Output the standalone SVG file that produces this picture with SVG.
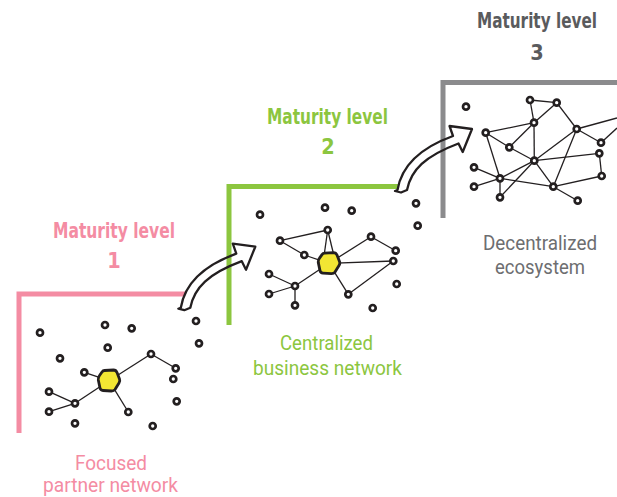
<svg xmlns="http://www.w3.org/2000/svg" width="617" height="497" viewBox="0 0 617 497">
  <style>
    .lvl { font-family: "DejaVu Sans Condensed", "DejaVu Sans", sans-serif; font-weight: bold; font-size: 21.5px; text-anchor: middle; }
    .cap { font-family: Roboto, "Liberation Sans", Arial, sans-serif; font-size: 20.5px; text-anchor: middle; }
    .pink { fill: #f48ca3; }
    .green { fill: #8cc63f; }
    .grey { fill: #6d6e70; }
    .greyd { fill: #5a5b5d; }
    .frame { fill: none; stroke-width: 5; stroke-linecap: butt; }
    .edge { stroke: #231f20; stroke-width: 1.3; fill: none; }
    .node { fill: #ffffff; stroke: #231f20; stroke-width: 2.7; }
    .hub { fill: #f2e633; stroke: #231f20; stroke-width: 2.8; stroke-linejoin: round; }
    .arrow { stroke: #231f20; stroke-width: 2.3; stroke-linejoin: round; }
  </style>
  <defs>
    <!-- curved step arrow, drawn at its upper position -->
    <path id="stepArrow" d="M397.5,190 C401,169 417,149 453,136 L449.5,126 L472,129 L462.7,152 L458.5,143.5 C425,156 411,170 407,190 L401,192.5 L395,191 Z"/>
    <!-- rounded pentagon hub -->
    <path id="hubShape" d="M104.5,370.5 L113.5,370 Q116,370 117,372.5 L119.5,379 Q120.3,381 119,383 L115,389.5 Q113.8,391 111.5,391 L103,390.5 Q100.5,390.3 100,388 L98.3,380 Q98,377.5 99.5,375.5 L102,372 Q103,370.6 104.5,370.5 Z"/>
  </defs>

  <rect width="617" height="497" fill="#ffffff"/>

  <!-- level frames -->
  <g id="frame-1">
    <polyline class="frame" stroke="#f48ca3" points="19,433 19,294 192,294"/>
  </g>
  <g id="arrows-fill">
    <use href="#stepArrow" fill="#ffffff" stroke="none" transform="translate(-216.7,117.7)"/>
    <use href="#stepArrow" fill="#ffffff" stroke="none"/>
  </g>
  <g id="frame-2">
    <polyline class="frame" stroke="#8cc63f" points="229,325 229,186.5 399,186.5"/>
  </g>
  <g id="frame-3">
    <polyline class="frame" stroke="#8b8b8d" points="443,218 443,82.5 617,82.5"/>
  </g>
  <g id="arrows">
    <use href="#stepArrow" class="arrow" fill="none" transform="translate(-216.7,117.7)"/>
    <use href="#stepArrow" class="arrow" fill="none"/>
  </g>

  <!-- titles -->
  <g id="title-1">
    <text class="lvl pink" x="114" y="237.5" textLength="122" lengthAdjust="spacingAndGlyphs">Maturity level</text>
    <text class="lvl pink" x="114" y="268">1</text>
  </g>
  <g id="title-2">
    <text class="lvl green" x="327.5" y="123.5" textLength="121" lengthAdjust="spacingAndGlyphs">Maturity level</text>
    <text class="lvl green" x="328" y="154">2</text>
  </g>
  <g id="title-3">
    <text class="lvl greyd" x="597" y="28" text-anchor="end" style="text-anchor:end" textLength="120" lengthAdjust="spacingAndGlyphs">Maturity level</text>
    <text class="lvl greyd" x="537" y="60">3</text>
  </g>

  <!-- captions -->
  <g id="caption-1">
    <text class="cap pink" x="111" y="469.5" textLength="72" lengthAdjust="spacingAndGlyphs">Focused</text>
    <text class="cap pink" x="110.5" y="492" textLength="135" lengthAdjust="spacingAndGlyphs">partner network</text>
  </g>
  <g id="caption-2">
    <text class="cap green" x="326.5" y="350" textLength="93" lengthAdjust="spacingAndGlyphs">Centralized</text>
    <text class="cap green" x="327.5" y="375" textLength="149" lengthAdjust="spacingAndGlyphs">business network</text>
  </g>
  <g id="caption-3">
    <text class="cap grey" x="540" y="249.5" textLength="114" lengthAdjust="spacingAndGlyphs">Decentralized</text>
    <text class="cap grey" x="540" y="274" textLength="90" lengthAdjust="spacingAndGlyphs">ecosystem</text>
  </g>

  <!-- network edges -->
  <g id="connectors">
    <!-- level 1 -->
    <line class="edge" x1="109" y1="380.7" x2="84.3" y2="372.3"/>
    <line class="edge" x1="109" y1="380.7" x2="151" y2="354"/>
    <line class="edge" x1="151" y1="354" x2="175.7" y2="368.3"/>
    <line class="edge" x1="109" y1="380.7" x2="75" y2="403.3"/>
    <line class="edge" x1="75" y1="403.3" x2="49" y2="391.7"/>
    <line class="edge" x1="75" y1="403.3" x2="49" y2="411.7"/>
    <line class="edge" x1="109" y1="380.7" x2="128.3" y2="412"/>
    <!-- level 2 -->
    <line class="edge" x1="280" y1="240.7" x2="327.7" y2="230"/>
    <line class="edge" x1="280" y1="240.7" x2="304.3" y2="255"/>
    <line class="edge" x1="304.3" y1="255" x2="329" y2="263.3"/>
    <line class="edge" x1="327.7" y1="230" x2="324" y2="256"/>
    <line class="edge" x1="327.7" y1="230" x2="334" y2="256"/>
    <line class="edge" x1="329" y1="263.3" x2="371" y2="236.7"/>
    <line class="edge" x1="371" y1="236.7" x2="395.7" y2="250.7"/>
    <line class="edge" x1="329" y1="263.3" x2="393.3" y2="261"/>
    <line class="edge" x1="393.3" y1="261" x2="348.3" y2="294.3"/>
    <line class="edge" x1="329" y1="263.3" x2="348.3" y2="294.3"/>
    <line class="edge" x1="329" y1="263.3" x2="295" y2="286"/>
    <line class="edge" x1="295" y1="286" x2="269" y2="274"/>
    <line class="edge" x1="295" y1="286" x2="269" y2="294"/>
    <line class="edge" x1="295" y1="286" x2="295" y2="305.3"/>
    <!-- level 3 -->
    <line class="edge" x1="530" y1="100" x2="556.7" y2="102.7"/>
    <line class="edge" x1="530" y1="100" x2="534" y2="122.7"/>
    <line class="edge" x1="556.7" y1="102.7" x2="534" y2="122.7"/>
    <line class="edge" x1="556.7" y1="102.7" x2="576.7" y2="129"/>
    <line class="edge" x1="534" y1="122.7" x2="485.7" y2="132.7"/>
    <line class="edge" x1="534" y1="122.7" x2="509.3" y2="147.3"/>
    <line class="edge" x1="534" y1="122.7" x2="534.3" y2="160.7"/>
    <line class="edge" x1="485.7" y1="132.7" x2="509.3" y2="147.3"/>
    <line class="edge" x1="485.7" y1="132.7" x2="500" y2="178.3"/>
    <line class="edge" x1="509.3" y1="147.3" x2="534.3" y2="160.7"/>
    <line class="edge" x1="576.7" y1="129" x2="617" y2="118"/>
    <line class="edge" x1="576.7" y1="129" x2="601" y2="142.7"/>
    <line class="edge" x1="576.7" y1="129" x2="534.3" y2="160.7"/>
    <line class="edge" x1="576.7" y1="129" x2="553.3" y2="186.7"/>
    <line class="edge" x1="601" y1="142.7" x2="617" y2="128"/>
    <line class="edge" x1="599.3" y1="153.3" x2="534.3" y2="160.7"/>
    <line class="edge" x1="599.3" y1="153.3" x2="601.7" y2="176"/>
    <line class="edge" x1="601.7" y1="176" x2="553.3" y2="186.7"/>
    <line class="edge" x1="534.3" y1="160.7" x2="553.3" y2="186.7"/>
    <line class="edge" x1="534.3" y1="160.7" x2="500" y2="178.3"/>
    <line class="edge" x1="534.3" y1="160.7" x2="500" y2="197.3"/>
    <line class="edge" x1="500" y1="178.3" x2="474" y2="167.3"/>
    <line class="edge" x1="500" y1="178.3" x2="474" y2="186.7"/>
    <line class="edge" x1="500" y1="178.3" x2="500" y2="197.3"/>
    <line class="edge" x1="500" y1="178.3" x2="553.3" y2="186.7"/>
    <line class="edge" x1="553.3" y1="186.7" x2="577.7" y2="200.7"/>
  </g>

  <!-- level 1 network -->
  <g id="network-1">
    <circle class="node" cx="40" cy="332.7" r="3"/>
    <circle class="node" cx="105" cy="325" r="3"/>
    <circle class="node" cx="131.7" cy="328.3" r="3"/>
    <circle class="node" cx="196" cy="321" r="3"/>
    <circle class="node" cx="199" cy="343.3" r="3"/>
    <circle class="node" cx="60" cy="358.3" r="3"/>
    <circle class="node" cx="107.7" cy="347.7" r="3"/>
    <circle class="node" cx="151" cy="354" r="3"/>
    <circle class="node" cx="175.7" cy="368.3" r="3"/>
    <circle class="node" cx="173.3" cy="379" r="3"/>
    <circle class="node" cx="84.3" cy="372.3" r="3"/>
    <circle class="node" cx="49" cy="391.7" r="3"/>
    <circle class="node" cx="75" cy="403.3" r="3"/>
    <circle class="node" cx="49" cy="411.7" r="3"/>
    <circle class="node" cx="128.3" cy="412" r="3"/>
    <circle class="node" cx="176.7" cy="401.3" r="3"/>
    <circle class="node" cx="75" cy="423.3" r="3"/>
    <circle class="node" cx="152.7" cy="426" r="3"/>
    <use href="#hubShape" class="hub"/>
  </g>

  <!-- level 2 network -->
  <g id="network-2">
    <circle class="node" cx="260" cy="214.7" r="3"/>
    <circle class="node" cx="325" cy="207.7" r="3"/>
    <circle class="node" cx="351.7" cy="210.7" r="3"/>
    <circle class="node" cx="416" cy="203.3" r="3"/>
    <circle class="node" cx="417.7" cy="225.7" r="3"/>
    <circle class="node" cx="280" cy="240.7" r="3"/>
    <circle class="node" cx="327.7" cy="230" r="3"/>
    <circle class="node" cx="371" cy="236.7" r="3"/>
    <circle class="node" cx="395.7" cy="250.7" r="3"/>
    <circle class="node" cx="393.3" cy="261" r="3"/>
    <circle class="node" cx="304.3" cy="255" r="3"/>
    <circle class="node" cx="269" cy="274" r="3"/>
    <circle class="node" cx="295" cy="286" r="3"/>
    <circle class="node" cx="269" cy="294" r="3"/>
    <circle class="node" cx="348.3" cy="294.3" r="3"/>
    <circle class="node" cx="396.7" cy="284" r="3"/>
    <circle class="node" cx="295" cy="305.3" r="3"/>
    <circle class="node" cx="372.7" cy="308" r="3"/>
    <use href="#hubShape" class="hub" transform="translate(220,-117.4)"/>
  </g>

  <!-- level 3 network -->
  <g id="network-3">
    <circle class="node" cx="466" cy="106.7" r="3"/>
    <circle class="node" cx="530" cy="100" r="3"/>
    <circle class="node" cx="556.7" cy="102.7" r="3"/>
    <circle class="node" cx="534" cy="122.7" r="3"/>
    <circle class="node" cx="485.7" cy="132.7" r="3"/>
    <circle class="node" cx="576.7" cy="129" r="3"/>
    <circle class="node" cx="509.3" cy="147.3" r="3"/>
    <circle class="node" cx="601" cy="142.7" r="3"/>
    <circle class="node" cx="599.3" cy="153.3" r="3"/>
    <circle class="node" cx="534.3" cy="160.7" r="3"/>
    <circle class="node" cx="474" cy="167.3" r="3"/>
    <circle class="node" cx="500" cy="178.3" r="3"/>
    <circle class="node" cx="601.7" cy="176" r="3"/>
    <circle class="node" cx="474" cy="186.7" r="3"/>
    <circle class="node" cx="553.3" cy="186.7" r="3"/>
    <circle class="node" cx="500" cy="197.3" r="3"/>
    <circle class="node" cx="577.7" cy="200.7" r="3"/>
  </g>
</svg>
